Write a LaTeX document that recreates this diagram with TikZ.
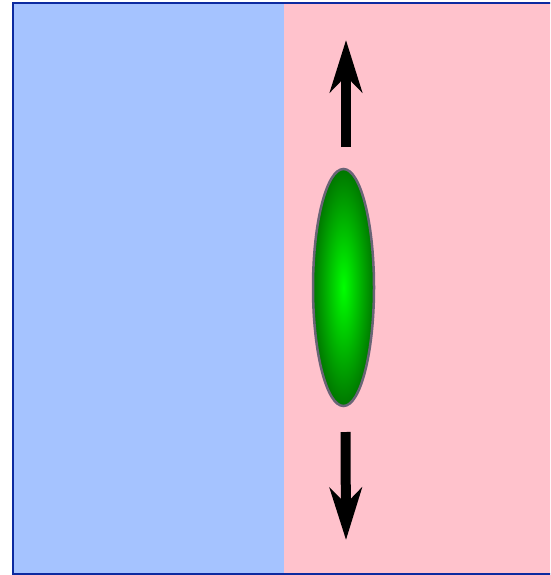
\documentclass[tikz,border=0pt]{standalone}
\usetikzlibrary{arrows.meta,shapes.geometric}
\definecolor{leftblue}{RGB}{165,195,255}
\definecolor{rightpink}{RGB}{255,194,204}
\definecolor{frameblue}{RGB}{12,42,160}
\definecolor{rimgray}{RGB}{105,100,118}
\tikzset{
  cellbody/.style={ellipse, draw=rimgray, line width=2.5pt, inner sep=0pt,
    minimum width=61pt, minimum height=237pt,
    inner color={rgb,255:red,0;green,255;blue,0}, outer color={rgb,255:red,0;green,118;blue,0}},
  pull/.style={line width=10pt, -{Stealth[length=52pt, width=32pt, inset=16pt]}}
}
\begin{document}
\begin{tikzpicture}[x=1pt, y=-1pt]
\useasboundingbox (0,0) rectangle (550,575);
\clip (0,0) rectangle (550,575);
\fill[leftblue] (13,3) rectangle (284,574);
\fill[rightpink] (284,3) rectangle (555,574);
\draw[frameblue, line width=2.5pt] (13,3) rectangle (555,574);

\node[cellbody] (cell) at (343.5,287.5) {};

\coordinate (uptail) at (346,147);
\coordinate (uptip) at (346,40);
\coordinate (downtail) at (345.5,432);
\coordinate (downtip) at (346,540);
\draw[pull] (uptail) -- (uptip);
\draw[pull] (downtail) -- (downtip);
\end{tikzpicture}
\end{document}
